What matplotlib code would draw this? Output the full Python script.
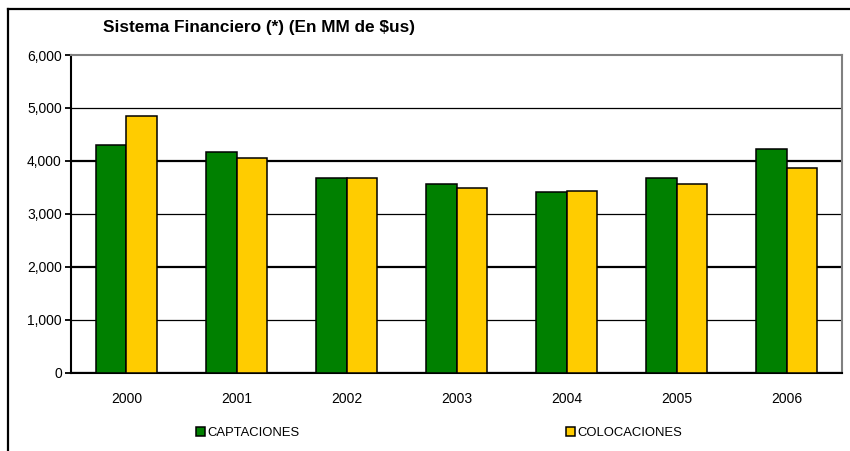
import numpy as np
import matplotlib.pyplot as plt
from matplotlib.lines import Line2D
from matplotlib.ticker import FuncFormatter

plt.rcParams['font.family'] = ['Liberation Sans', 'DejaVu Sans']

years = ['2000', '2001', '2002', '2003', '2004', '2005', '2006']
captaciones = [4300, 4160, 3675, 3560, 3420, 3680, 4220]
colocaciones = [4850, 4060, 3675, 3495, 3435, 3565, 3870]

fig = plt.figure(figsize=(8.5, 4.51), dpi=100)
ax = fig.add_axes([0.0841, 0.174, 0.9061, 0.704])

x = np.arange(len(years))
w = 0.28
ax.bar(x - w / 2, captaciones, w, color='#008000', edgecolor='black', linewidth=1.1,
       label='CAPTACIONES', zorder=3)
ax.bar(x + w / 2, colocaciones, w, color='#FFCC00', edgecolor='black', linewidth=1.1,
       label='COLOCACIONES', zorder=3)

ax.set_xlim(-0.5, len(years) - 0.5)
ax.set_ylim(0, 6000)
ax.set_yticks(range(0, 6001, 1000))
ax.yaxis.set_major_formatter(FuncFormatter(lambda v, p: f'{int(v):,}'))
ax.set_xticks(x)
ax.set_xticklabels(years)
ax.tick_params(axis='x', length=0, pad=14, labelsize=10)
ax.tick_params(axis='y', direction='out', length=4, width=1.3, labelsize=10, pad=3)

# horizontal grid lines, Excel-style uneven thickness
ax.grid(axis='y', color='black', zorder=0)
for i, gl in enumerate(ax.get_ygridlines()):
    gl.set_linewidth(1.6 if i % 2 == 0 else 0.9)
ax.get_ygridlines()[-1].set_visible(False)

ax.spines['left'].set_linewidth(1.5)
ax.spines['bottom'].set_linewidth(1.5)
for s in ('top', 'right'):
    ax.spines[s].set_color('#808080')
    ax.spines[s].set_linewidth(1.5)

fig.text(0.121, 0.94, 'Sistema Financiero (*) (En MM de $us)', fontsize=12.4,
         fontweight='bold', ha='left', va='center')

# outer chart frame (top and left edges)
fig.add_artist(Line2D([0.0094, 1.0], [0.980, 0.980], color='black', linewidth=1.6,
                      transform=fig.transFigure))
fig.add_artist(Line2D([0.0094, 0.0094], [0.0, 0.980], color='black', linewidth=1.6,
                      transform=fig.transFigure))

fig.legend(loc='center left', bbox_to_anchor=(0.230, 0.039), ncol=2, frameon=False,
           fontsize=9.4, handlelength=0.69, handleheight=0.69, handletextpad=0.2,
           columnspacing=20.4, borderpad=0, borderaxespad=0)

fig.savefig('out.png', dpi=100)
